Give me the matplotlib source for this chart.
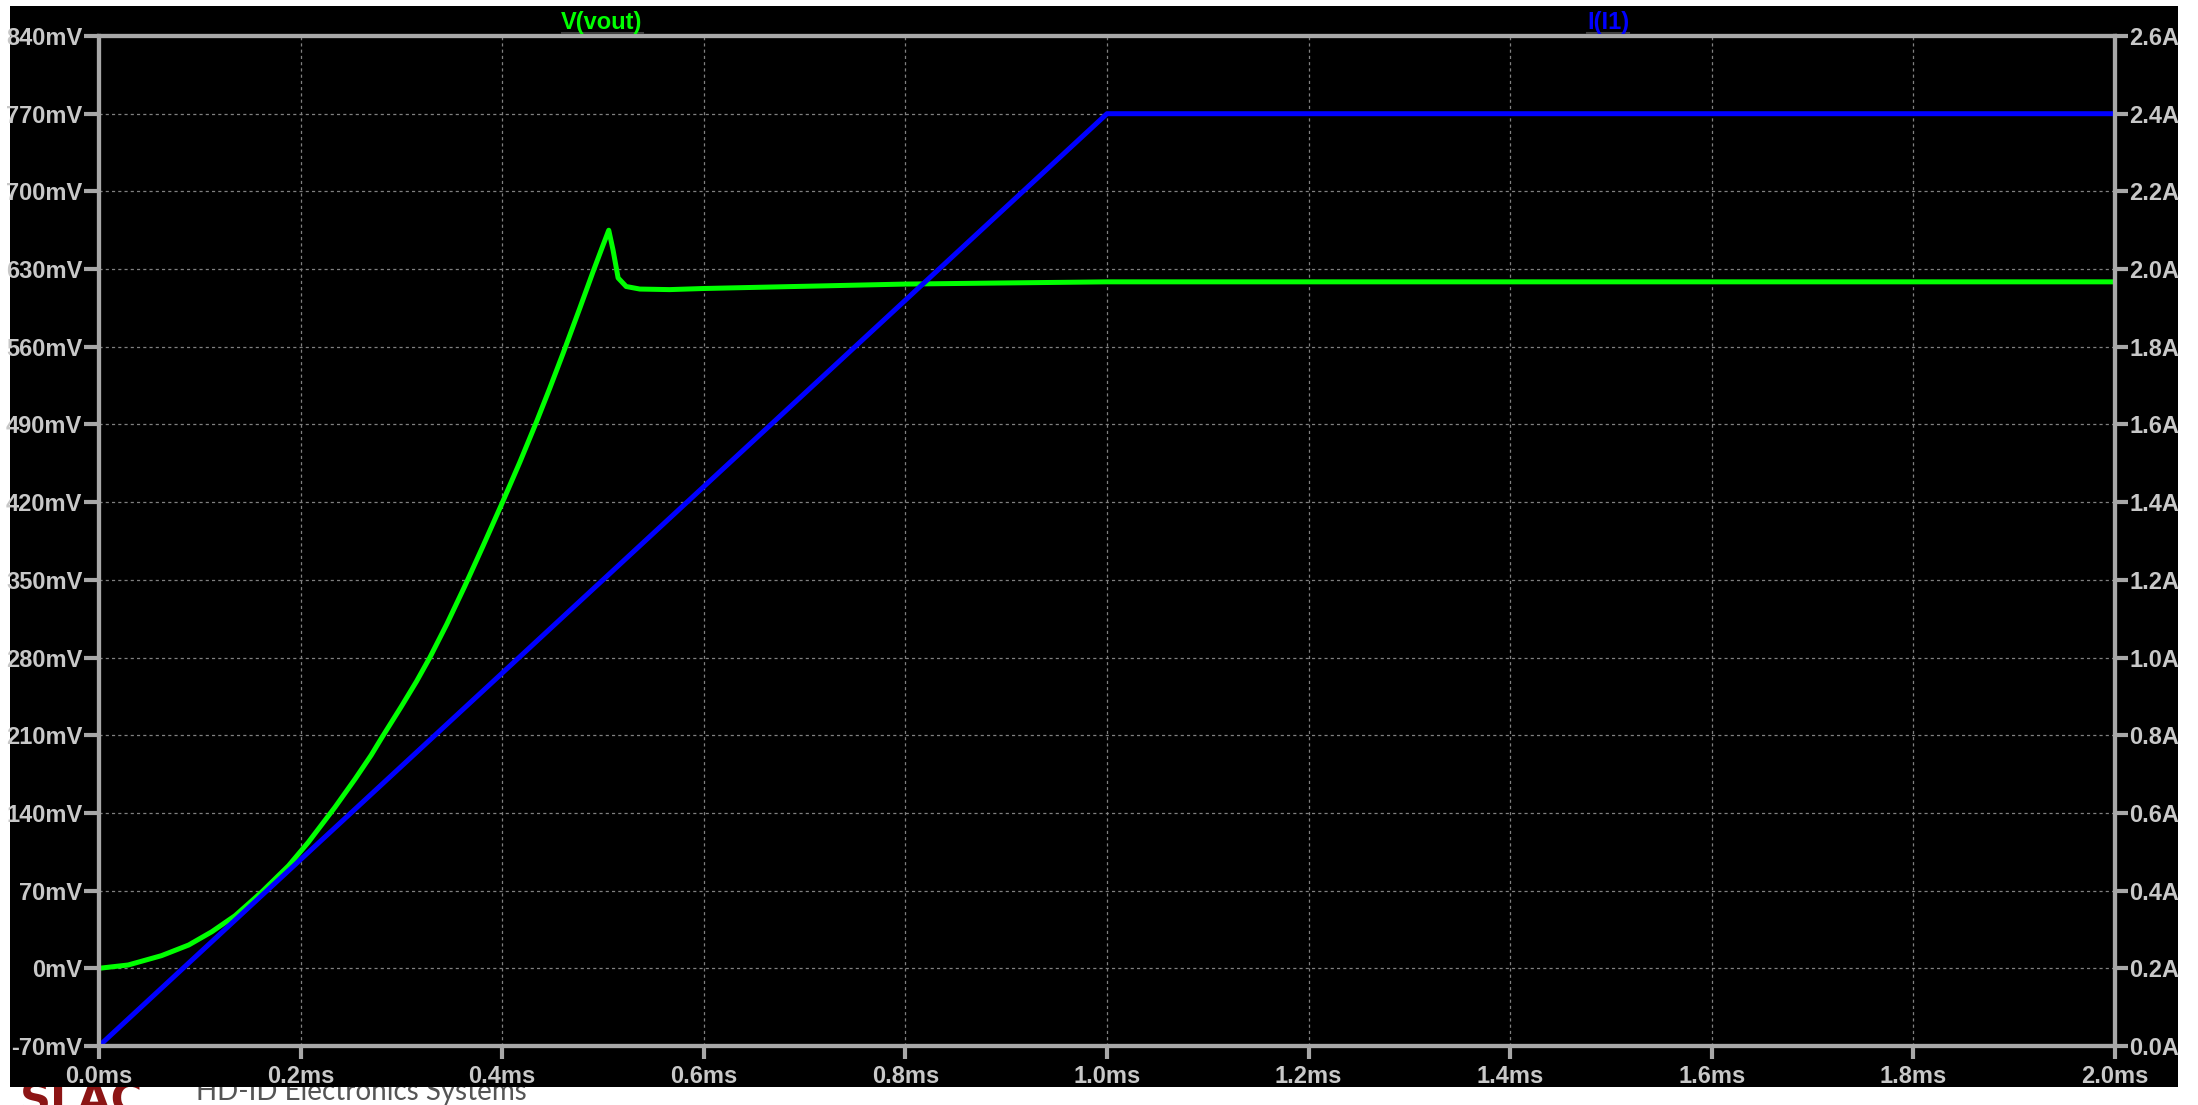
import matplotlib
matplotlib.use("Agg")
import matplotlib.pyplot as plt
from matplotlib.patches import Rectangle
from matplotlib.lines import Line2D

# ---- data ----
t_vout = [0, 0.029, 0.062, 0.089, 0.112, 0.135, 0.161, 0.188, 0.2076, 0.234, 0.254,
          0.270, 0.280, 0.300, 0.315, 0.3282, 0.345, 0.363, 0.381, 0.4, 0.4174,
          0.434, 0.447, 0.4604, 0.477, 0.490, 0.4994, 0.5057, 0.510, 0.515, 0.523,
          0.5365, 0.566, 0.6, 0.7, 0.8, 0.9, 1.0, 2.0]
v_vout = [0, 3, 11.4, 21, 33, 47.4, 68.4, 92.4, 113.5, 145, 170.5,
          192, 207, 236, 258.5, 280, 310, 344.5, 380.5, 419.3, 455.8,
          492.3, 522.2, 554.1, 594.8, 627.3, 650, 665, 647, 622, 614.3,
          612, 611.5, 612.5, 614.5, 616.5, 617.5, 618.5, 618.5]
t_i1 = [0, 1.0, 2.0]
i_i1 = [0, 2.4, 2.4]

x_ticks = [0.0, 0.2, 0.4, 0.6, 0.8, 1.0, 1.2, 1.4, 1.6, 1.8, 2.0]
x_labels = ["0.0ms", "0.2ms", "0.4ms", "0.6ms", "0.8ms", "1.0ms", "1.2ms", "1.4ms", "1.6ms", "1.8ms", "2.0ms"]
yl_ticks = [-70, 0, 70, 140, 210, 280, 350, 420, 490, 560, 630, 700, 770, 840]
yl_labels = [f"{v}mV" for v in yl_ticks]
yr_ticks = [0.0, 0.2, 0.4, 0.6, 0.8, 1.0, 1.2, 1.4, 1.6, 1.8, 2.0, 2.2, 2.4, 2.6]
yr_labels = [f"{v:.1f}A" for v in yr_ticks]

W, H = 2198, 1105
fig = plt.figure(figsize=(W / 100, H / 100), dpi=100)
fig.patch.set_facecolor("white")

FONT = ["Liberation Sans", "DejaVu Sans"]
SPINE = "#A8A8A8"
LABEL = "#C8C8C8"

# footer text (partially hidden behind black panel)
fig.text(20 / W, -8 / H, "SLAC", color="#8C1515", fontsize=31, fontweight="bold",
         family=["DejaVu Sans"], zorder=-3)
fig.text(196 / W, 5 / H, "HD-ID Electronics Systems", color="#555555", fontsize=20,
         family=["Lato", "DejaVu Sans"], zorder=-3)

# black panel
fig.add_artist(Rectangle((10 / W, 1 - 1087 / H), (2178 - 10) / W, (1087 - 6) / H,
                         transform=fig.transFigure, facecolor="black", edgecolor="none", zorder=-1))

left, right, top, bottom = 99, 2115, 36, 1046
ax = fig.add_axes([left / W, 1 - bottom / H, (right - left) / W, (bottom - top) / H])
ax.set_facecolor("black")
ax2 = ax.twinx()
ax2.set_facecolor("none")

ax.plot(t_vout, v_vout, color="#00FF00", lw=3.6, solid_joinstyle="round", solid_capstyle="round")
ax2.plot(t_i1, i_i1, color="#0000FF", lw=3.6, solid_joinstyle="round", solid_capstyle="round")

ax.set_xlim(0, 2.0)
ax.set_ylim(-70, 840)
ax2.set_ylim(0, 2.6)

ax.set_xticks(x_ticks)
ax.set_xticklabels(x_labels)
ax.set_yticks(yl_ticks)
ax.set_yticklabels(yl_labels)
ax2.set_yticks(yr_ticks)
ax2.set_yticklabels(yr_labels)

ax.grid(True, color="#808080", lw=0.9, linestyle=(0, (2.5, 2.5)))

for a in (ax, ax2):
    for s in a.spines.values():
        s.set_color(SPINE)
        s.set_linewidth(3)

ax.tick_params(axis="x", direction="out", length=9.5, width=3, color=SPINE, pad=4.5,
               labelcolor=LABEL, labelsize=17)
ax.tick_params(axis="y", direction="out", length=11, width=3, color=SPINE, pad=1,
               labelcolor=LABEL, labelsize=17)
ax2.tick_params(axis="y", direction="out", length=9.5, width=3, color=SPINE, pad=1,
                labelcolor=LABEL, labelsize=17)
for lab in ax.get_xticklabels() + ax.get_yticklabels() + ax2.get_yticklabels():
    lab.set_family(FONT)
    lab.set_fontweight("bold")

# trace labels
fig.text(602 / W, 1 - 22 / H, "V(vout)", color="#00FF00", fontsize=17, fontweight="bold",
         family=FONT, ha="center", va="center")
fig.text(1608 / W, 1 - 22 / H, "I(I1)", color="#0000FF", fontsize=17, fontweight="bold",
         family=FONT, ha="center", va="center")
fig.add_artist(Line2D([562 / W, 643 / W], [1 - 33 / H, 1 - 33 / H], transform=fig.transFigure,
                      color="#404040", lw=1.5))
fig.add_artist(Line2D([1587 / W, 1629 / W], [1 - 33 / H, 1 - 33 / H], transform=fig.transFigure,
                      color="#404040", lw=1.5))

fig.savefig("out.png", dpi=100, facecolor=fig.get_facecolor())
